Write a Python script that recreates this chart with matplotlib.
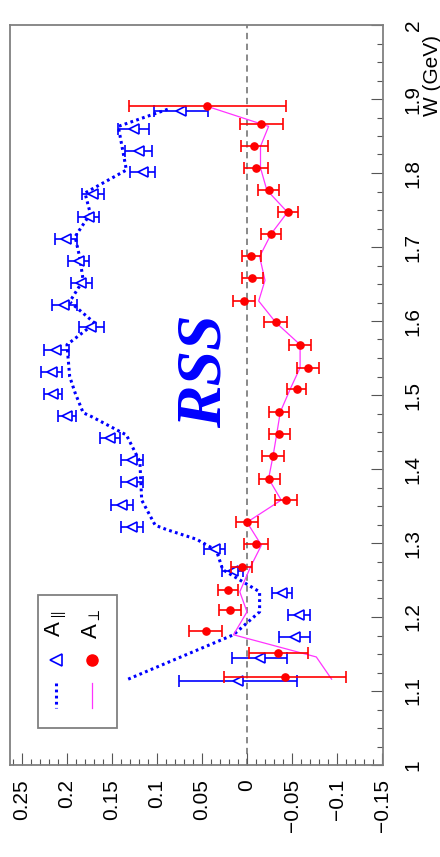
import matplotlib
matplotlib.use("Agg")
import matplotlib.pyplot as plt
from matplotlib.ticker import MultipleLocator
from matplotlib.patches import Rectangle
from matplotlib.lines import Line2D

# A_perp measurements (red points)
w_perp = [1.119, 1.151, 1.181, 1.209, 1.237, 1.268, 1.298, 1.328, 1.358,
          1.387, 1.418, 1.447, 1.477, 1.508, 1.537, 1.568, 1.598, 1.627,
          1.658, 1.688, 1.718, 1.747, 1.777, 1.807, 1.836, 1.866, 1.890]
a_perp = [-0.042, -0.035, 0.046, 0.019, 0.021, 0.006, -0.010, 0.000, -0.043,
          -0.025, -0.029, -0.036, -0.036, -0.055, -0.068, -0.059, -0.032, 0.003,
          -0.006, -0.005, -0.027, -0.046, -0.024, -0.010, -0.008, -0.016, 0.044]
err_perp = [0.068, 0.033, 0.018, 0.012, 0.011, 0.012, 0.013, 0.012, 0.012,
            0.012, 0.012, 0.012, 0.011, 0.011, 0.012, 0.012, 0.013, 0.012,
            0.012, 0.011, 0.011, 0.011, 0.012, 0.013, 0.015, 0.024, 0.087]

# A_par measurements (blue triangles)
w_par = [1.113, 1.145, 1.173, 1.203, 1.232, 1.262, 1.292, 1.322, 1.352,
         1.382, 1.412, 1.442, 1.472, 1.501, 1.531, 1.561, 1.592, 1.621,
         1.651, 1.681, 1.711, 1.741, 1.771, 1.801, 1.830, 1.859, 1.884]
a_par = [0.010, -0.014, -0.053, -0.058, -0.039, 0.016, 0.036, 0.128, 0.139,
         0.128, 0.128, 0.152, 0.200, 0.216, 0.217, 0.212, 0.173, 0.203,
         0.184, 0.187, 0.201, 0.176, 0.171, 0.116, 0.120, 0.126, 0.073]
err_par = [0.065, 0.031, 0.017, 0.012, 0.011, 0.012, 0.012, 0.012, 0.012,
           0.012, 0.012, 0.011, 0.010, 0.010, 0.012, 0.014, 0.014, 0.014,
           0.012, 0.012, 0.012, 0.012, 0.012, 0.014, 0.015, 0.017, 0.030]

# model curves
w_par_model = [1.116, 1.176, 1.207, 1.234, 1.264, 1.290, 1.305, 1.318, 1.324,
               1.358, 1.410, 1.446, 1.471, 1.476, 1.503, 1.525, 1.568, 1.597,
               1.626, 1.655, 1.687, 1.714, 1.745, 1.773, 1.804, 1.863, 1.887]
a_par_model = [0.132, 0.015, -0.014, -0.014, 0.027, 0.034, 0.056, 0.089, 0.102,
               0.117, 0.119, 0.134, 0.173, 0.182, 0.191, 0.197, 0.200, 0.169,
               0.197, 0.182, 0.186, 0.191, 0.174, 0.180, 0.134, 0.143, 0.086]
w_perp_model = [1.116, 1.146, 1.176, 1.207, 1.234, 1.268, 1.297, 1.328, 1.358,
                1.387, 1.418, 1.447, 1.477, 1.508, 1.537, 1.568, 1.598, 1.627,
                1.655, 1.687, 1.718, 1.747, 1.777, 1.807, 1.836, 1.863, 1.890]
a_perp_model = [-0.094, -0.077, 0.015, 0.000, 0.008, -0.004, -0.016, 0.000, -0.038,
                -0.024, -0.029, -0.033, -0.037, -0.048, -0.059, -0.059, -0.032, -0.013,
                -0.020, -0.014, -0.027, -0.045, -0.022, -0.015, -0.015, -0.024, 0.044]

a_ticks = [0.25, 0.2, 0.15, 0.1, 0.05, 0.0, -0.05, -0.1, -0.15]
a_labels = ["0.25", "0.2", "0.15", "0.1", "0.05", "0", "\u22120.05", "\u22120.1", "\u22120.15"]
w_ticks = [1.0, 1.1, 1.2, 1.3, 1.4, 1.5, 1.6, 1.7, 1.8, 1.9, 2.0]
w_labels = ["1", "1.1", "1.2", "1.3", "1.4", "1.5", "1.6", "1.7", "1.8", "1.9", "2"]

plt.rcParams["font.family"] = ["Liberation Sans", "DejaVu Sans"]
plt.rcParams["mathtext.fontset"] = "custom"
plt.rcParams["mathtext.rm"] = "Liberation Sans"

W, H = 440, 857
fig = plt.figure(figsize=(W / 100, H / 100), dpi=100)


def fx(x):
    return x / W


def fy(y):
    return 1 - y / H


ax = fig.add_axes([fx(10), fy(765), 373 / W, 740 / H])
ax.set_xlim(0.2633, -0.1511)
ax.set_ylim(1.0, 2.0)

frame = "#808080"
for s in ax.spines.values():
    s.set_color(frame)
    s.set_linewidth(1.3)

ax.axvline(0, color="#808080", ls=(0, (3.5, 2.5)), lw=1.3, zorder=1)

ax.plot(a_par_model, w_par_model, color="#0000ff", ls=(0, (0.9, 1.1)), lw=2.2, zorder=2)
ax.plot(a_perp_model, w_perp_model, color="#ff33ff", lw=0.9, zorder=2)

ax.errorbar(a_par, w_par, xerr=err_par, fmt="<", color="#0000ff", mfc="white",
            mec="#0000ff", mew=1.2, ms=7, elinewidth=1.2, capsize=4.5,
            capthick=1.2, zorder=4)
ax.errorbar(a_perp, w_perp, xerr=err_perp, fmt="o", color="#ff0000", ms=5.2,
            elinewidth=1.2, capsize=4.5, capthick=1.2, zorder=5)

ax.set_xticks(a_ticks)
ax.set_xticklabels(a_labels)
ax.xaxis.set_minor_locator(MultipleLocator(0.01))
ax.yaxis.tick_right()
ax.set_yticks(w_ticks)
ax.set_yticklabels(w_labels)
ax.yaxis.set_minor_locator(MultipleLocator(0.025))

ax.tick_params(which="both", direction="in", color="#555555", width=0.8,
               top=False, left=False, bottom=True, right=True)
ax.tick_params(which="major", length=8.8)
ax.tick_params(which="minor", length=4.3)
ax.tick_params(axis="x", labelrotation=90, labelsize=15, pad=10)
ax.tick_params(axis="y", labelrotation=90, labelsize=15, pad=15)
plt.setp(ax.get_yticklabels(), va="center", ha="left")
plt.setp(ax.get_xticklabels(), va="top", ha="center")

fig.text(fx(432), fy(75), "W (GeV)", rotation=90, fontsize=15,
         ha="center", va="center")

ax.text(0.525, 0.532, "RSS", transform=ax.transAxes, rotation=90,
        fontsize=46, family="Liberation Serif", weight="bold", style="italic",
        color="#0000ff", ha="center", va="center")

# legend box, drawn rotated like the rest of the chart
fig.add_artist(Rectangle((fx(37.7), fy(727.7)), 79 / W, 132.7 / H,
                         transform=fig.transFigure, fill=False,
                         ec=frame, lw=1.3))
fig.text(fx(56), fy(624), r"A$_{\parallel}$", rotation=90, fontsize=16,
         ha="center", va="center")
fig.text(fx(92), fy(624), r"A$_{\perp}$", rotation=90, fontsize=16,
         ha="center", va="center")
fig.add_artist(Line2D([fx(56)], [fy(660)], transform=fig.transFigure,
                      marker="<", ms=8, mfc="none", mec="#0000ff", mew=1.2))
fig.add_artist(Line2D([fx(92)], [fy(660)], transform=fig.transFigure,
                      marker="o", ms=8, mfc="#ff0000", mec="#ff0000"))
fig.add_artist(Line2D([fx(56), fx(56)], [fy(683), fy(708)], transform=fig.transFigure,
                      color="#0000ff", ls=(0, (0.9, 1.1)), lw=2.2))
fig.add_artist(Line2D([fx(92), fx(92)], [fy(683), fy(708)], transform=fig.transFigure,
                      color="#ff33ff", lw=0.9))

fig.savefig("out.png", dpi=100)
